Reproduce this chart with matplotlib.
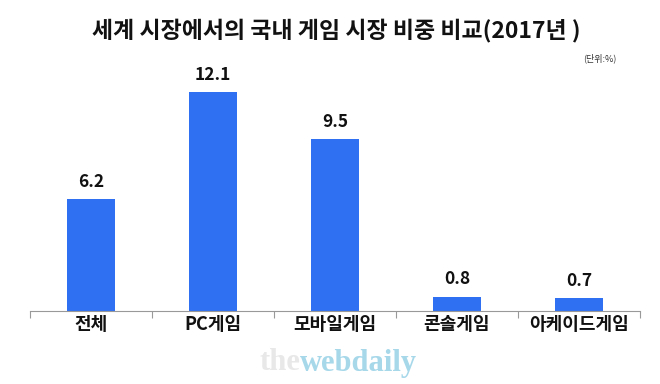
"""국내 게임 시장 비중 막대 차트"""

import matplotlib.pyplot as plt
import numpy as np

categories = ["전체", "PC게임", "모바일게임", "콘솔게임", "아케이드게임"]
values = [6.2, 12.1, 9.5, 0.8, 0.7]
value_labels = ["6.2", "12.1", "9.5", "0.8", "0.7"]

plt.rcParams['font.family'] = ['Noto Sans CJK KR', 'DejaVu Sans']

fig = plt.figure(figsize=(6.6, 3.84), dpi=100)
ax = fig.add_axes([30 / 660, 1 - 311 / 384, 610 / 660, 253 / 384])

x = np.arange(len(categories))
ax.bar(x, values, width=0.4, color="#2f6ff2", zorder=2)

for xi, v, lab in zip(x, values, value_labels):
    ax.text(xi, v + 0.45, lab, ha="center", va="bottom", fontsize=12.5,
            fontweight="bold", color="#111111")

ax.set_xlim(-0.5, len(categories) - 0.5)
ax.set_ylim(0, 14)
ax.set_yticks([])
ax.set_xticks(x)
ax.set_xticklabels(categories, fontsize=13, fontweight="bold", color="#111111")
ax.tick_params(axis="x", which="major", length=0, pad=3)
ax.set_xticks(np.arange(-0.5, len(categories)), minor=True)
ax.tick_params(axis="x", which="minor", length=5, color="#999999", width=0.8)

for side in ["top", "right", "left"]:
    ax.spines[side].set_visible(False)
ax.spines["bottom"].set_color("#999999")
ax.spines["bottom"].set_linewidth(0.8)

fig.text(336 / 660, 1 - 30 / 384, "세계 시장에서의 국내 게임 시장 비중 비교(2017년 )",
         ha="center", va="center", fontsize=16.5, fontweight="bold", color="#111111")
fig.text(600 / 660, 1 - 58 / 384, "(단위:%)", ha="center", va="center",
         fontsize=6.5, color="#333333")

# watermark
fig.text(300 / 660, 1 - 363 / 384, "the", ha="right", va="center", fontsize=22,
         fontweight="bold", family="Liberation Serif", color="#e8e8e8")
fig.text(300 / 660, 1 - 363 / 384, "webdaily", ha="left", va="center", fontsize=22,
         fontweight="bold", family="Liberation Serif", color="#a6d8ea")

plt.savefig("out.png", dpi=100)
plt.close()
